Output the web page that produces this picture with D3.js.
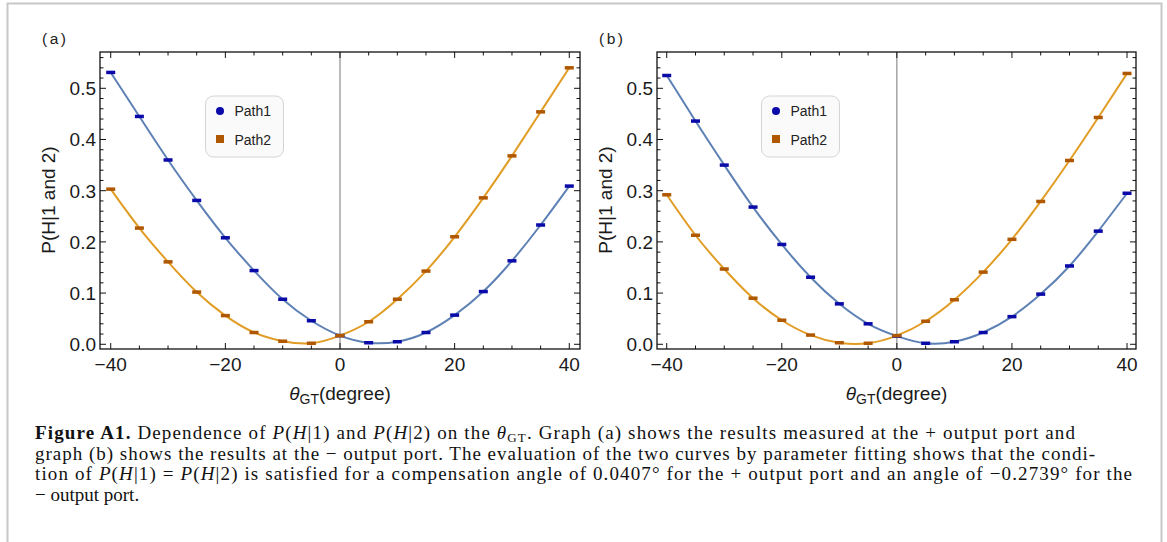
<!DOCTYPE html>
<html>
<head>
<meta charset="utf-8">
<script src="https://cdn.jsdelivr.net/npm/d3@7"></script>
<style>
  body { margin: 0; background: #fff; }
  svg { display: block; }
  .tick-label { font-family: "Liberation Sans", Arial, sans-serif; font-size: 19px; fill: #1a1a1a; }
  .caption { font-family: "Liberation Serif", "Times New Roman", serif; font-size: 19px; fill: #111; }
</style>
</head>
<body>
<div id="chart"></div>
<script>
// measured angles (degree)
const angles = [-40, -35, -30, -25, -20, -15, -10, -5, 0, 5, 10, 15, 20, 25, 30, 35, 40];

// (a) + output port
const plusPath1 = [0.531, 0.445, 0.360, 0.281, 0.208, 0.144, 0.088, 0.046, 0.017, 0.003, 0.005, 0.023, 0.057, 0.103, 0.163, 0.233, 0.309];
const plusPath2 = [0.303, 0.227, 0.161, 0.102, 0.056, 0.023, 0.006, 0.002, 0.017, 0.044, 0.088, 0.143, 0.210, 0.286, 0.368, 0.454, 0.540];

// (b) - output port
const minusPath1 = [0.525, 0.436, 0.350, 0.268, 0.195, 0.131, 0.079, 0.040, 0.016, 0.002, 0.005, 0.023, 0.054, 0.098, 0.153, 0.221, 0.295];
const minusPath2 = [0.292, 0.213, 0.147, 0.090, 0.047, 0.018, 0.003, 0.002, 0.017, 0.045, 0.087, 0.141, 0.205, 0.279, 0.359, 0.443, 0.529];

const xTicks = [-40, -20, 0, 20, 40];
const xMinor = d3.range(-40, 41, 5);
const yTicks = [0, 0.1, 0.2, 0.3, 0.4, 0.5];
const yMinor = d3.range(0, 0.561, 0.02);
const seriesNames = ["Path1", "Path2"];
const panelNames = ["(a)", "(b)"];

const lineColors = ["#5e81b5", "#e19c24"];
const markColors = ["#0a0aa8", "#b05800"];

const W = 1167, H = 542;
const svg = d3.select("#chart").append("svg")
  .attr("width", W).attr("height", H);

// page frame
svg.append("rect")
  .attr("x", 7.5).attr("y", 3.5).attr("width", 1154).attr("height", 600)
  .attr("fill", "none").attr("stroke", "#c8c8c8").attr("stroke-width", 2);

function drawPanel(opt) {
  const x = d3.scaleLinear().domain(opt.xDomain).range([opt.left, opt.right]);
  const y = d3.scaleLinear().domain([-0.0092, 0.5709]).range([349, 52]);
  const g = svg.append("g");

  // panel label
  g.append("text")
    .attr("x", opt.left - 58).attr("y", 44)
    .attr("font-family", "Liberation Sans, Arial, sans-serif")
    .attr("font-size", 15.5).attr("letter-spacing", 2.5).attr("fill", "#222")
    .text(opt.label);

  // zero line
  g.append("line")
    .attr("x1", x(0)).attr("x2", x(0)).attr("y1", 52).attr("y2", 349)
    .attr("stroke", "#777").attr("stroke-width", 1);

  // fitted curves
  const line = d3.line()
    .x((d, i) => x(angles[i]))
    .y(d => y(d))
    .curve(d3.curveNatural);
  opt.series.forEach((vals, k) => {
    g.append("path")
      .datum(vals)
      .attr("d", line)
      .attr("fill", "none")
      .attr("stroke", lineColors[k])
      .attr("stroke-width", 2);
  });

  // data marks (error bar caps)
  opt.series.forEach((vals, k) => {
    g.selectAll(null)
      .data(vals)
      .enter().append("rect")
      .attr("x", (d, i) => x(angles[i]) - 4.5)
      .attr("y", d => y(d) - 1.75)
      .attr("width", 9).attr("height", 3.5)
      .attr("fill", markColors[k]);
  });

  // frame
  g.append("rect")
    .attr("x", opt.left).attr("y", 52)
    .attr("width", opt.right - opt.left).attr("height", 297)
    .attr("fill", "none").attr("stroke", "#111").attr("stroke-width", 1.3);

  // ticks on all four sides, pointing inward
  const tick = (x1, y1, x2, y2) => g.append("line")
    .attr("x1", x1).attr("y1", y1).attr("x2", x2).attr("y2", y2)
    .attr("stroke", "#111").attr("stroke-width", 1);
  xMinor.forEach(v => {
    const len = xTicks.includes(v) ? 6 : 3.5;
    tick(x(v), 349, x(v), 349 - len);
    tick(x(v), 52, x(v), 52 + len);
  });
  yMinor.forEach(v => {
    const major = yTicks.some(t => Math.abs(t - v) < 1e-6);
    const len = major ? 6 : 3.5;
    tick(opt.left, y(v), opt.left + len, y(v));
    tick(opt.right, y(v), opt.right - len, y(v));
  });

  // tick labels
  g.selectAll(null).data(xTicks).enter().append("text")
    .attr("class", "tick-label")
    .attr("x", d => x(d)).attr("y", 370.5)
    .attr("text-anchor", "middle")
    .text(d3.format("d"));
  g.selectAll(null).data(yTicks).enter().append("text")
    .attr("class", "tick-label")
    .attr("x", opt.left - 4).attr("y", d => y(d) + 7)
    .attr("text-anchor", "end")
    .text(d3.format(".1f"));

  // axis titles
  const xt = g.append("text")
    .attr("class", "tick-label")
    .attr("x", (opt.left + opt.right) / 2).attr("y", 400)
    .attr("text-anchor", "middle");
  xt.append("tspan").attr("font-style", "italic").text("θ");
  xt.append("tspan").attr("font-size", 14).attr("dy", 4).text("GT");
  xt.append("tspan").attr("dy", -4).text("(degree)");

  g.append("text")
    .attr("class", "tick-label")
    .attr("transform", `translate(${opt.left - 45},200) rotate(-90)`)
    .attr("text-anchor", "middle")
    .text("P(H|1 and 2)");

  // legend
  const lg = g.append("g").attr("transform", `translate(${opt.legendX},96)`);
  lg.append("rect")
    .attr("width", 78).attr("height", 61).attr("rx", 8)
    .attr("fill", "#fafafa").attr("stroke", "#d4d4d4");
  lg.append("circle").attr("cx", 14.5).attr("cy", 15).attr("r", 4).attr("fill", markColors[0]);
  lg.append("rect").attr("x", 10.5).attr("y", 39).attr("width", 8).attr("height", 8).attr("fill", markColors[1]);
  seriesNames.forEach((s, i) => {
    lg.append("text")
      .attr("x", 29).attr("y", 20 + i * 28.5)
      .attr("font-family", "Liberation Sans, Arial, sans-serif")
      .attr("font-size", 14).attr("fill", "#222")
      .text(s);
  });
}

drawPanel({ label: panelNames[0], left: 100, right: 580, xDomain: [-41.87, 41.87],
  legendX: 205.5, series: [plusPath1, plusPath2] });
drawPanel({ label: panelNames[1], left: 657, right: 1136, xDomain: [-41.69, 41.56],
  legendX: 761.5, series: [minusPath1, minusPath2] });

// caption
const captionLines = [
  [["Figure A1.", "b"], [" Dependence of "], ["P", "i"], ["("], ["H", "i"], ["|1) and "], ["P", "i"], ["("], ["H", "i"], ["|2) on the "], ["θ", "i"], ["GT", "sub"], [". Graph (a) shows the results measured at the + output port and"]],
  [["graph (b) shows the results at the − output port. The evaluation of the two curves by parameter fitting shows that the condi-"]],
  [["tion of "], ["P", "i"], ["("], ["H", "i"], ["|1) = "], ["P", "i"], ["("], ["H", "i"], ["|2) is satisfied for a compensation angle of 0.0407° for the + output port and an angle of −0.2739° for the"]],
  [["− output port."]]
];
const baselines = [439, 459.5, 480, 500.5];
const lineWidths = [1040, 1060, 1097, null];
captionLines.forEach((segs, li) => {
  const t = svg.append("text").attr("class", "caption").attr("x", 35).attr("y", baselines[li]);
  if (lineWidths[li]) t.attr("textLength", lineWidths[li]).attr("lengthAdjust", "spacing");
  let sub = false;
  segs.forEach(([s, st]) => {
    const ts = t.append("tspan").text(s);
    if (st === "b") ts.attr("font-weight", "bold");
    if (st === "i") ts.attr("font-style", "italic");
    if (st === "sub") { ts.attr("font-size", 13).attr("dy", 2.5); sub = true; }
    else if (sub) { ts.attr("dy", -2.5); sub = false; }
  });
});
</script>
</body>
</html>
